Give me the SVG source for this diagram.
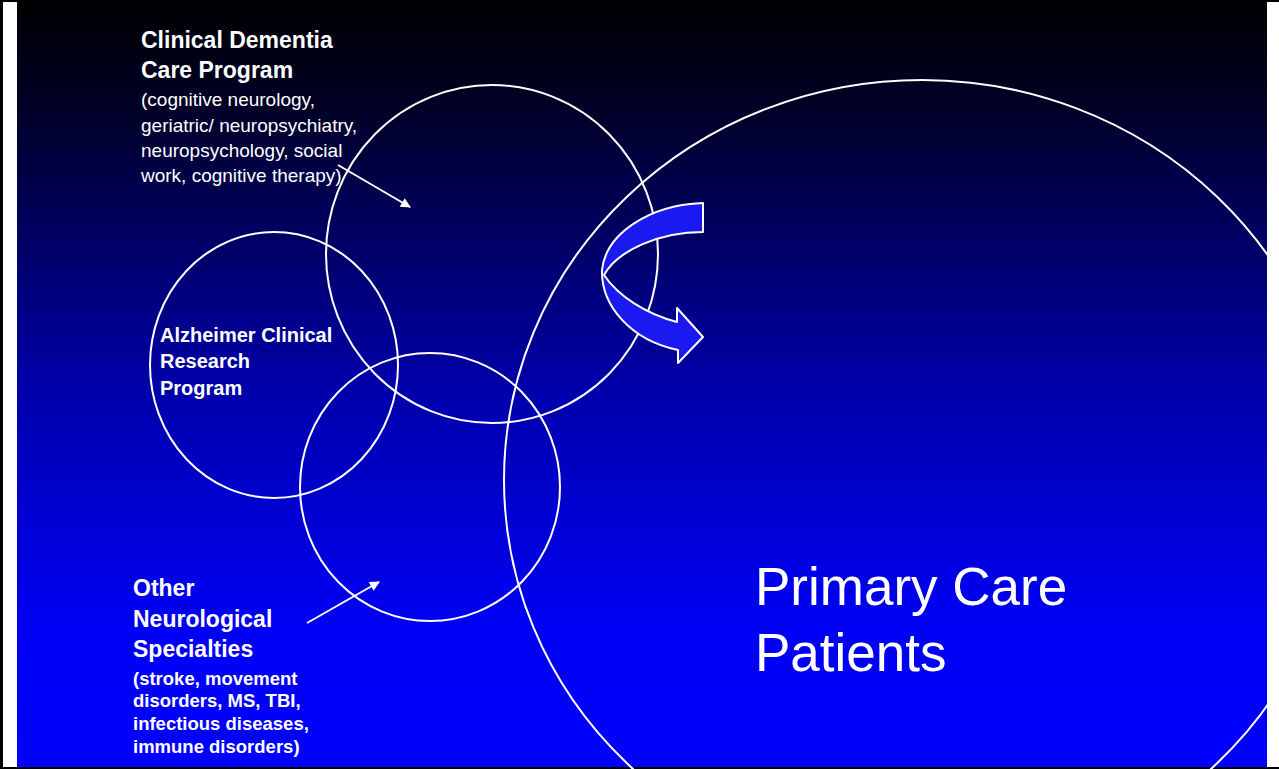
<svg xmlns="http://www.w3.org/2000/svg" width="1279" height="769" viewBox="0 0 1279 769">
  <defs>
    <linearGradient id="bg" x1="0" y1="0" x2="0" y2="1">
      <stop offset="0" stop-color="#000000"/>
      <stop offset="0.15" stop-color="#00002a"/>
      <stop offset="0.5" stop-color="#0000a8"/>
      <stop offset="0.8" stop-color="#0000f2"/>
      <stop offset="1" stop-color="#0000ff"/>
    </linearGradient>
    <marker id="ah" viewBox="0 0 10 10" refX="9" refY="5" markerWidth="12" markerHeight="10" markerUnits="userSpaceOnUse" orient="auto">
      <path d="M0,0 L10,5 L0,10 Z" fill="#ffffff"/>
    </marker>
    <style>
      .ring { fill: none; stroke: #ffffff; stroke-width: 2; }
      .t { fill: #ffffff; font-family: "Liberation Sans", Arial, sans-serif; }
      .b { font-weight: bold; }
      .conn { stroke: #ffffff; stroke-width: 2; fill: none; }
    </style>
  </defs>

  <rect x="0" y="0" width="1279" height="769" fill="#ffffff"/>
  <rect x="17" y="0" width="1250" height="767" fill="url(#bg)"/>
  <rect x="0" y="0" width="3" height="769" fill="#000000"/>
  <rect x="0" y="0" width="1279" height="2" fill="#000000"/>
  <rect x="0" y="767" width="1279" height="2" fill="#000000"/>

  <g id="primary-care">
    <ellipse class="ring" cx="922" cy="480" rx="418" ry="400"/>
    <text class="t" font-size="53" x="755" y="605">Primary Care</text>
    <text class="t" font-size="53" x="755" y="671">Patients</text>
  </g>

  <g id="alzheimer-research">
    <ellipse class="ring" cx="274" cy="365" rx="124" ry="133"/>
    <text class="t b" font-size="20" x="160" y="342">Alzheimer Clinical</text>
    <text class="t b" font-size="20" x="160" y="368">Research</text>
    <text class="t b" font-size="20" x="160" y="395">Program</text>
  </g>

  <g id="dementia-care">
    <ellipse class="ring" cx="492" cy="254" rx="166" ry="169"/>
    <text class="t b" font-size="23" x="141" y="48">Clinical Dementia</text>
    <text class="t b" font-size="23" x="141" y="78">Care Program</text>
    <text class="t" font-size="19" x="141" y="106">(cognitive neurology,</text>
    <text class="t" font-size="19" x="141" y="132">geriatric/ neuropsychiatry,</text>
    <text class="t" font-size="19" x="141" y="157">neuropsychology, social</text>
    <text class="t" font-size="19" x="141" y="182">work, cognitive therapy)</text>
  </g>

  <g id="other-neuro">
    <ellipse class="ring" cx="430" cy="487" rx="130" ry="134"/>
    <text class="t b" font-size="23" x="133" y="596">Other</text>
    <text class="t b" font-size="23" x="133" y="627">Neurological</text>
    <text class="t b" font-size="23" x="133" y="657">Specialties</text>
    <text class="t b" font-size="18.5" x="133" y="685">(stroke, movement</text>
    <text class="t b" font-size="18.5" x="133" y="707">disorders, MS, TBI,</text>
    <text class="t b" font-size="18.5" x="133" y="730">infectious diseases,</text>
    <text class="t b" font-size="18.5" x="133" y="753">immune disorders)</text>
  </g>

  <g id="referral-arrow">
    <path d="M703,203 C650,205 606,233 602,270 C601,305 630,340 678,350 L678,363 L703,337 L677,308 L677,322 C646,314 618,296 604,275 C618,250 660,232 703,232 Z" fill="#1a1af0" stroke="#ffffff" stroke-width="2" stroke-linejoin="round"/>
  </g>

  <g id="connectors">
    <line class="conn" x1="338" y1="165" x2="410" y2="207" marker-end="url(#ah)"/>
    <line class="conn" x1="307" y1="623" x2="379" y2="582" marker-end="url(#ah)"/>
  </g>
</svg>
